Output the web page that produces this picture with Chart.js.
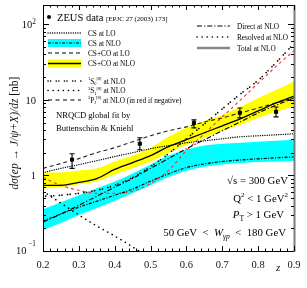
<!DOCTYPE html>
<html>
<head>
<meta charset="utf-8">
<script src="https://cdn.jsdelivr.net/npm/chart.js@4.4.1/dist/chart.umd.min.js"></script>
<style>
  html, body { margin: 0; padding: 0; background: #fff; }
  #wrap { width: 307px; height: 288px; }
</style>
</head>
<body>
<div id="wrap"><canvas id="c" width="307" height="288"></canvas></div>
<script>
// z grid shared by the theory curves
const zGrid = [0.2, 0.25, 0.3, 0.35, 0.4, 0.45, 0.5, 0.55, 0.6, 0.65, 0.7, 0.75, 0.8, 0.85, 0.9];

// ZEUS data
const zeusZ   = [0.281, 0.47, 0.621, 0.749, 0.85];
const zeusVal = [1.62, 2.63, 4.96, 6.75, 6.95];
const zeusLo  = [1.24, 2.19, 4.26, 5.77, 5.95];
const zeusHi  = [1.94, 3.15, 5.43, 7.8, 8.05];

// theory curves [nb]
const csLo      = [1.09, 1.24, 1.39, 1.57, 1.78, 2.0, 2.26, 2.48, 2.71, 2.88, 3.06, 3.25, 3.35, 3.45, 3.56];
const csNloUp   = [0.357, 0.443, 0.547, 0.675, 0.83, 1.06, 1.39, 1.83, 2.19, 2.48, 2.63, 2.71, 2.79, 2.88, 2.97];
const csNloLow  = [0.19, 0.235, 0.299, 0.37, 0.46, 0.58, 0.74, 0.95, 1.15, 1.3, 1.4, 1.46, 1.5, 1.53, 1.55];
const csNloMid  = [0.249, 0.31, 0.38, 0.456, 0.547, 0.66, 0.84, 1.05, 1.27, 1.42, 1.53, 1.6, 1.66, 1.71, 1.76];
const ccLo      = [1.24, 1.44, 1.67, 2.0, 2.33, 2.79, 3.35, 3.9, 4.39, 5.1, 5.78, 6.7, 7.8, 9.1, 10.6];
const ccNloUp   = [1.09, 1.09, 1.16, 1.24, 1.53, 1.83, 2.33, 3.25, 4.26, 5.27, 6.31, 8.05, 10.6, 13.5, 17.6];
const ccNloLow  = [0.675, 0.7, 0.76, 0.83, 1.03, 1.24, 1.53, 2.0, 2.55, 3.15, 3.9, 4.67, 5.78, 6.9, 8.3];
const ccNloMid  = [0.74, 0.74, 0.81, 0.91, 1.2, 1.48, 1.83, 2.4, 2.97, 3.67, 4.53, 5.6, 7.13, 9.1, 11.2];
const s0Nlo     = [0.53, 0.547, 0.58, 0.636, 0.739, 0.94, 1.31, 1.94, 3.06, 4.8, 7.6, 11.9, 18.2, 31.2, 55.6];
const pjNloAbs  = [0.94, 0.739, 0.636, 0.58, 0.58, 0.617, 0.785, 1.16, 2.13, 3.56, 5.95, 9.9, 16.6, 27.7, 44.9];
const directNlo = [0.242, 0.308, 0.404, 0.53, 0.7, 0.913, 1.24, 1.67, 2.26, 2.97, 3.9, 5.11, 6.71, 8.5, 10.6];
const resolvedZ = [0.2, 0.25, 0.3, 0.35, 0.4, 0.45, 0.5];
const resolvedNlo = [0.617, 0.43, 0.3, 0.214, 0.158, 0.113, 0.08];

// axis ticks
const xTickLabels = [0.2, 0.3, 0.4, 0.5, 0.6, 0.7, 0.8, 0.9];
const yTickValues = [0.1, 1, 10, 100];

const FONT = '"Liberation Serif", "DejaVu Serif", serif';
const pts = (vals, zs = zGrid) => vals.map((v, i) => ({ x: zs[i], y: v }));

const curve = (data, color, dash, width, extra = {}) => ({
  data, borderColor: color, borderDash: dash, borderWidth: width,
  pointRadius: 0, fill: false, cubicInterpolationMode: 'monotone', order: 1, ...extra,
});

const rich = (ctx, x, y, parts, size, align) => {
  const fontOf = (p) => `${p.i ? 'italic ' : ''}${(size * (p.s || 1)).toFixed(1)}px ${FONT}`;
  let w = 0;
  parts.forEach((p) => { ctx.font = fontOf(p); w += ctx.measureText(p.t).width; });
  let cx = align === 'right' ? x - w : align === 'center' ? x - w / 2 : x;
  ctx.textAlign = 'left';
  ctx.textBaseline = 'alphabetic';
  parts.forEach((p) => {
    ctx.font = fontOf(p);
    ctx.fillText(p.t, cx, y + (p.dy || 0) * size);
    cx += ctx.measureText(p.t).width;
  });
};

const legendLine = (ctx, x0, x1, y, color, dash, width, cap) => {
  ctx.save();
  ctx.strokeStyle = color;
  ctx.lineWidth = width;
  ctx.lineCap = cap || 'butt';
  ctx.setLineDash(dash);
  ctx.beginPath();
  ctx.moveTo(x0, y);
  ctx.lineTo(x1, y);
  ctx.stroke();
  ctx.restore();
};

const decor = {
  id: 'decor',
  afterDatasetsDraw(chart) {
    const { ctx, scales: { x, y } } = chart;
    ctx.save();
    ctx.strokeStyle = '#000';
    ctx.fillStyle = '#000';
    ctx.lineWidth = 1.1;
    zeusZ.forEach((z, i) => {
      const px = x.getPixelForValue(z);
      const lo = y.getPixelForValue(zeusLo[i]);
      const hi = y.getPixelForValue(zeusHi[i]);
      ctx.beginPath();
      ctx.moveTo(px, lo); ctx.lineTo(px, hi);
      ctx.moveTo(px - 2.5, lo); ctx.lineTo(px + 2.5, lo);
      ctx.moveTo(px - 2.5, hi); ctx.lineTo(px + 2.5, hi);
      ctx.stroke();
    });
    ctx.restore();
  },
  afterDraw(chart) {
    const { ctx, chartArea: a, scales: { x, y } } = chart;
    ctx.save();

    // frame
    ctx.strokeStyle = '#000';
    ctx.lineWidth = 1;
    ctx.beginPath();
    ctx.moveTo(a.left + 0.5, a.top + 0.5);
    ctx.lineTo(a.right, a.top + 0.5);
    ctx.moveTo(a.left + 0.5, a.top);
    ctx.lineTo(a.left + 0.5, a.bottom + 0.5);
    ctx.lineTo(a.right, a.bottom + 0.5);
    ctx.stroke();
    ctx.strokeStyle = '#7a7a7a';
    ctx.lineWidth = 2;
    ctx.beginPath();
    ctx.moveTo(a.right + 0.5, a.top);
    ctx.lineTo(a.right + 0.5, a.bottom + 1);
    ctx.stroke();

    // ticks, pointing inwards
    ctx.strokeStyle = '#000';
    ctx.lineWidth = 1;
    ctx.beginPath();
    for (let i = 10; i <= 45; i++) {
      const px = Math.round(x.getPixelForValue(i / 50)) + 0.5;
      const len = i % 5 === 0 ? 5 : 2.5;
      ctx.moveTo(px, a.bottom); ctx.lineTo(px, a.bottom - len);
      ctx.moveTo(px, a.top); ctx.lineTo(px, a.top + len);
    }
    for (let d = -1; d <= 2; d++) {
      for (let k = 1; k <= 9; k++) {
        const v = k * Math.pow(10, d);
        if (v > 180) continue;
        const py = Math.round(y.getPixelForValue(v)) + 0.5;
        const len = k === 1 ? 6 : 3;
        ctx.moveTo(a.left, py); ctx.lineTo(a.left + len, py);
        ctx.moveTo(a.right, py); ctx.lineTo(a.right - len, py);
      }
    }
    ctx.stroke();

    // tick labels
    ctx.fillStyle = '#111';
    xTickLabels.forEach((v) => {
      rich(ctx, x.getPixelForValue(v), a.bottom + 17, [{ t: v.toFixed(1) }], 10.5, 'center');
    });
    rich(ctx, x.getPixelForValue(0.85) + 2, a.bottom + 20, [{ t: 'z', i: true }], 11, 'center');
    const yLab = {
      0.1: [{ t: '10' }, { t: ' \u22121', s: 0.7, dy: -0.75 }],
      1: [{ t: '1' }],
      10: [{ t: '10' }],
      100: [{ t: '10' }, { t: '2', s: 0.7, dy: -0.45 }],
    };
    yTickValues.forEach((v) => {
      const py = y.getPixelForValue(v);
      rich(ctx, a.left - 7, py + (v === 0.1 ? 3 : 4), yLab[v], 10.5, 'right');
    });

    // y axis title
    ctx.save();
    ctx.translate(14, 133);
    ctx.rotate(-Math.PI / 2);
    rich(ctx, 0, 4, [
      { t: 'd\u03c3(ep \u2192 J/\u03c8+X)/dz ', i: true },
      { t: '[nb]' },
    ], 11.5, 'center');
    ctx.restore();

    // legend, left column
    const lx0 = 48, lx1 = 81, tx = 88, fs = 7.3;
    ctx.fillStyle = '#000';
    ctx.beginPath();
    ctx.arc(49, 17, 2, 0, Math.PI * 2);
    ctx.fill();
    rich(ctx, 57, 20.5, [{ t: 'ZEUS data ' }, { t: '[EPJC 27 (2003) 173]', s: 0.67 }], 10.5, 'left');

    legendLine(ctx, lx0, lx1, 33, '#000', [0.1, 2.2], 1.3, 'round');
    rich(ctx, tx, 35.5, [{ t: 'CS at LO' }], fs, 'left');

    ctx.fillStyle = '#00ffff';
    ctx.fillRect(lx0, 39, lx1 - lx0, 8);
    legendLine(ctx, lx0, lx1, 43, '#000', [3, 1.5, 1, 1.5], 1.2);
    ctx.fillStyle = '#000';
    rich(ctx, tx, 45.5, [{ t: 'CS at NLO' }], fs, 'left');

    legendLine(ctx, lx0, lx1, 53, '#000', [4, 3], 1.1);
    rich(ctx, tx, 55.5, [{ t: 'CS+CO at LO' }], fs, 'left');

    ctx.fillStyle = '#ffff00';
    ctx.fillRect(lx0, 59.5, lx1 - lx0, 8);
    legendLine(ctx, lx0, lx1, 63.5, '#000', [], 1.3);
    ctx.fillStyle = '#000';
    rich(ctx, tx, 66, [{ t: 'CS+CO at NLO' }], fs, 'left');

    legendLine(ctx, lx0, lx1, 81, '#000', [0.1, 2.5, 0.1, 5.5], 1.6, 'round');
    rich(ctx, tx, 83.5, [
      { t: '1', s: 0.6, dy: -0.45 }, { t: 'S' }, { t: '0', s: 0.6, dy: 0.25 },
      { t: '[8]', s: 0.6, dy: -0.45 }, { t: ' at NLO' },
    ], fs, 'left');

    legendLine(ctx, lx0, lx1, 90.5, '#000', [0.1, 5], 1.6, 'round');
    rich(ctx, tx, 93, [
      { t: '3', s: 0.6, dy: -0.45 }, { t: 'S' }, { t: '1', s: 0.6, dy: 0.25 },
      { t: '[8]', s: 0.6, dy: -0.45 }, { t: ' at NLO' },
    ], fs, 'left');

    legendLine(ctx, lx0, lx1, 100, '#000', [4, 3.5], 1.1);
    rich(ctx, tx, 102.5, [
      { t: '3', s: 0.6, dy: -0.45 }, { t: 'P' }, { t: 'J', s: 0.6, dy: 0.25 },
      { t: '[8]', s: 0.6, dy: -0.45 }, { t: ' at NLO (in red if negative)' },
    ], fs, 'left');

    // legend, right column
    const rx0 = 197, rx1 = 230, rtx = 237;
    legendLine(ctx, rx0, rx1, 26, '#000', [5, 2, 1.2, 2], 1.1);
    rich(ctx, rtx, 28.5, [{ t: 'Direct at NLO' }], fs, 'left');
    legendLine(ctx, rx0, rx1, 37, '#000', [0.1, 5], 1.6, 'round');
    rich(ctx, rtx, 39.5, [{ t: 'Resolved at NLO' }], fs, 'left');
    legendLine(ctx, rx0, rx1, 48, '#888', [], 2.5);
    rich(ctx, rtx, 50.5, [{ t: 'Total at NLO' }], fs, 'left');

    // fit note
    rich(ctx, 56, 118, [{ t: 'NRQCD global fit by' }], 8.6, 'left');
    rich(ctx, 56, 131, [{ t: 'Buttensch\u00f6n & Kniehl' }], 8.6, 'left');

    // kinematic cuts
    const kf = 10.8;
    rich(ctx, 288, 184, [{ t: '\u221as = 300 GeV' }], kf, 'right');
    rich(ctx, 288, 202, [
      { t: 'Q' }, { t: '2', s: 0.65, dy: -0.45 }, { t: ' < 1 GeV' }, { t: '2', s: 0.65, dy: -0.45 },
    ], kf, 'right');
    rich(ctx, 284, 218, [{ t: 'P', i: true }, { t: 'T', s: 0.7, dy: 0.25 }, { t: ' > 1 GeV' }], kf, 'right');
    rich(ctx, 286, 236, [
      { t: '50 GeV\u2002<\u2002' }, { t: 'W', i: true }, { t: '\u03b3p', s: 0.7, dy: 0.25, i: true },
      { t: '\u2002<\u2002180 GeV' },
    ], kf, 'right');

    ctx.restore();
  },
};

new Chart(document.getElementById('c').getContext('2d'), {
  type: 'line',
  data: {
    datasets: [
      // ZEUS points
      {
        data: pts(zeusVal, zeusZ), showLine: false, pointStyle: 'rect',
        pointRadius: 2.2, pointBackgroundColor: '#000', pointBorderColor: '#000', order: 0,
      },
      curve(pts(ccNloMid), '#000', [], 1.3),
      curve(pts(csNloMid), '#000', [3, 1.5, 1, 1.5], 1.2),
      curve(pts(csLo), '#000', [0.1, 2.2], 1.3, { borderCapStyle: 'round' }),
      curve(pts(ccLo), '#222', [4, 3], 1.1),
      curve(pts(directNlo), '#000', [5, 2, 1.2, 2], 1.1),
      curve(pts(resolvedNlo, resolvedZ), '#000', [0.1, 5], 1.6, { borderCapStyle: 'round' }),
      curve(pts(s0Nlo), '#000', [0.1, 2.5, 0.1, 5.5], 1.6, { borderCapStyle: 'round' }),
      curve(pts(pjNloAbs), '#ff3030', [3, 3], 1.1),
      // bands
      {
        data: pts(ccNloUp), borderWidth: 0, pointRadius: 0, backgroundColor: '#ffff00',
        fill: '+1', cubicInterpolationMode: 'monotone', order: 10,
      },
      {
        data: pts(ccNloLow), borderWidth: 0, pointRadius: 0, fill: false,
        cubicInterpolationMode: 'monotone', order: 10,
      },
      {
        data: pts(csNloUp), borderWidth: 0, pointRadius: 0, backgroundColor: '#00ffff',
        fill: '+1', cubicInterpolationMode: 'monotone', order: 10,
      },
      {
        data: pts(csNloLow), borderWidth: 0, pointRadius: 0, fill: false,
        cubicInterpolationMode: 'monotone', order: 10,
      },
    ],
  },
  options: {
    responsive: false,
    animation: false,
    layout: { padding: { left: 43, right: 13, top: 3, bottom: 37 } },
    scales: {
      x: { type: 'linear', min: 0.2, max: 0.9, display: false },
      y: { type: 'logarithmic', min: 0.1, max: 180, display: false },
    },
    plugins: {
      legend: { display: false },
      tooltip: { enabled: false },
    },
  },
  plugins: [decor],
});
</script>
</body>
</html>
